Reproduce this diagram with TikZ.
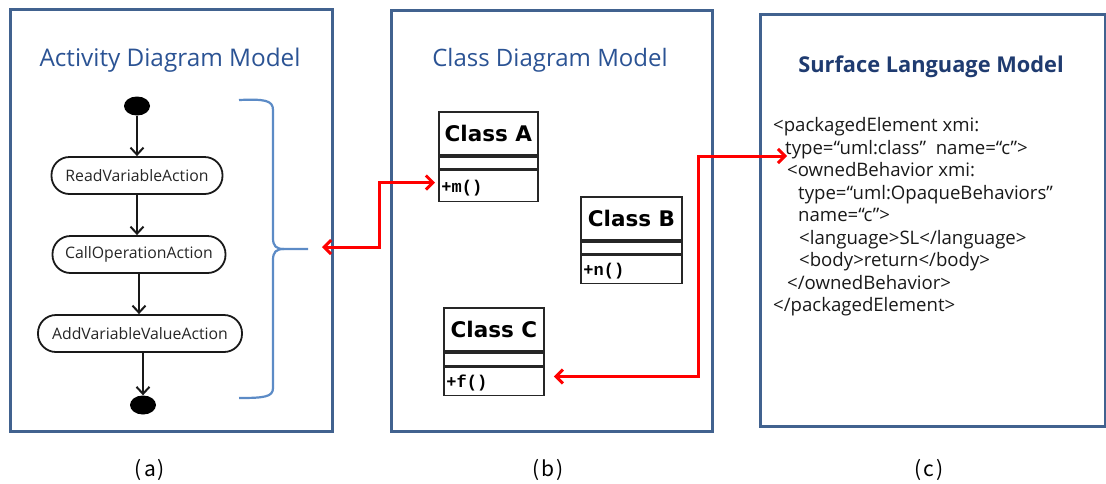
\documentclass[tikz,border=0pt]{standalone}
\usepackage{fontspec}
\setmainfont{Open Sans}
\newfontfamily\clsfont{DejaVu Sans}
\newfontfamily\methfont{Liberation Mono}
\newfontfamily\capfont{Noto Sans CJK KR}
\usetikzlibrary{arrows.meta,shapes.geometric}
\definecolor{panelblue}{HTML}{41628F}
\definecolor{titleblue}{HTML}{2B5394}
\definecolor{darktitle}{HTML}{1F3B70}
\definecolor{braceblue}{HTML}{5C8BC6}
\definecolor{redline}{HTML}{FF0000}
\tikzset{
  panel/.style={draw=panelblue, line width=3pt, inner sep=0pt, anchor=north west},
  ptitle/.style={text=titleblue, font=\fontsize{24.3}{27}\selectfont, inner sep=0pt},
  action/.style={draw=black!90, line width=1.8pt, rounded corners=18pt, minimum height=37pt, inner sep=0pt, font=\fontsize{15.8}{17}\selectfont, text=black!85},
  dot/.style={ellipse, fill=black, minimum width=26pt, minimum height=19pt, inner sep=0pt},
  actarr/.style={draw=black!90, line width=2pt, -{Straight Barb[length=7pt,width=13pt,line width=2pt]}},
  clsname/.style={draw=black!85, line width=1.8pt, anchor=north west, inner sep=0pt, minimum height=43pt, font=\clsfont\bfseries\fontsize{21.5}{23}\selectfont},
  clsattr/.style={draw=black!85, line width=1.8pt, anchor=north, inner sep=0pt},
  clsmeth/.style={draw=black!85, line width=1.8pt, anchor=north, inner sep=0pt, text depth=0pt, font=\methfont\bfseries\fontsize{17}{18}\selectfont},
  brace/.style={draw=braceblue, line width=2.2pt},
  redarr/.style={draw=redline, line width=3pt, {Straight Barb[length=7pt,width=14pt,line width=3pt]}-{Straight Barb[length=7pt,width=14pt,line width=3pt]}},
  codeline/.style={anchor=base west, inner sep=0pt, font=\fontsize{18.6}{21}\selectfont, text=black!90},
  caption/.style={inner sep=0pt, font=\capfont\fontsize{21}{23}\selectfont}
}
\begin{document}
\begin{tikzpicture}[x=1pt,y=-1pt]
\useasboundingbox (0,0) rectangle (1106,483);
% panels
\node[panel, minimum width=322pt, minimum height=422pt] (pa) at (9,8) {};
\node[panel, minimum width=321pt, minimum height=421pt] (pb) at (390,9) {};
\node[panel, minimum width=345pt, minimum height=412pt] (pc) at (759,13) {};
% titles
\node[ptitle] (ta) at (170,60) {Activity Diagram Model};
\node[ptitle, font=\fontsize{24}{27}\selectfont] (tb) at (550,60) {Class Diagram Model};
\node[ptitle, text=darktitle, font=\bfseries\fontsize{21.8}{24}\selectfont] (tc) at (931,67) {Surface Language Model};
% activity diagram
\node[dot] (start) at (137,106) {};
\node[action, minimum width=171pt] (read) at (137,175.5) {ReadVariableAction};
\node[action, minimum width=173pt] (call) at (139,254.5) {CallOperationAction};
\node[action, minimum width=204pt] (add) at (140,333.5) {AddVariableValueAction};
\node[dot] (stop) at (143,405) {};
\draw[actarr] (start) -- (start |- read.north);
\draw[actarr] (read.south) -- (read.south |- call.north);
\draw[actarr] (call.south) -- (call.south |- add.north);
\draw[actarr] (stop |- add.south) -- (stop.north);
% brace
\draw[brace] (239,100) .. controls (264,99) and (273,100) .. (273,110) -- (273,238)
  .. controls (273,246) and (276,249) .. (284,249) -- (308,249);
\draw[brace] (284,249) .. controls (276,249) and (273,252) .. (273,260) -- (273,388)
  .. controls (273,397) and (264,398) .. (239,398);
\coordinate (brtip) at (322,247);
% classes
\node[clsname, minimum width=99pt] (clsA) at (438,111) {Class A};
\node[clsattr, minimum width=99pt, minimum height=12pt] (clsAa) at (clsA.south) {};
\node[clsmeth, minimum width=99pt, minimum height=31pt] (clsAm) at (clsAa.south) {\makebox[94pt][l]{+m()}};
\node[clsname, minimum width=101pt] (clsB) at (580,196) {Class B};
\node[clsattr, minimum width=101pt, minimum height=12pt] (clsBa) at (clsB.south) {};
\node[clsmeth, minimum width=101pt, minimum height=28pt] (clsBm) at (clsBa.south) {\makebox[96pt][l]{+n()}};
\node[clsname, minimum width=100pt] (clsC) at (443,307) {Class C};
\node[clsattr, minimum width=100pt, minimum height=13pt] (clsCa) at (clsC.south) {};
\node[clsmeth, minimum width=100pt, minimum height=28pt] (clsCm) at (clsCa.south) {\makebox[95pt][l]{+f()}};
% code
\node[codeline] (code1) at (773,131.5) {<packagedElement xmi:};
\node[codeline] (code2) at (785,154) {type=“uml:class”\ \ name=“c”>};
\node[codeline] (code3) at (787,176.5) {<ownedBehavior\ xmi:};
\node[codeline] (code4) at (798,199) {type=“uml:OpaqueBehaviors”};
\node[codeline] (code5) at (798,221.5) {name=“c”>};
\node[codeline] (code6) at (799,244) {<language>SL</language>};
\node[codeline] (code7) at (799,266.5) {<body>return</body>};
\node[codeline] (code8) at (787,289) {</ownedBehavior>};
\node[codeline] (code9) at (773,311.5) {</packagedElement>};
\coordinate (codetip) at (787,156);
% red connectors
\draw[redarr] (brtip) -- ++(57,0) |- ([xshift=-3pt,yshift=3.5pt]clsAm.west);
\draw[redarr] (codetip) -- (698,156) |- ([xshift=9pt,yshift=5pt]clsCm.east);
% captions
\node[caption] (capa) at (150,470) {(\kern2pt a\kern2pt)};
\node[caption] (capb) at (548,470) {(\kern2pt b\kern2pt)};
\node[caption] (capc) at (929,470) {(\kern2pt c\kern2pt)};
\end{tikzpicture}
\end{document}
